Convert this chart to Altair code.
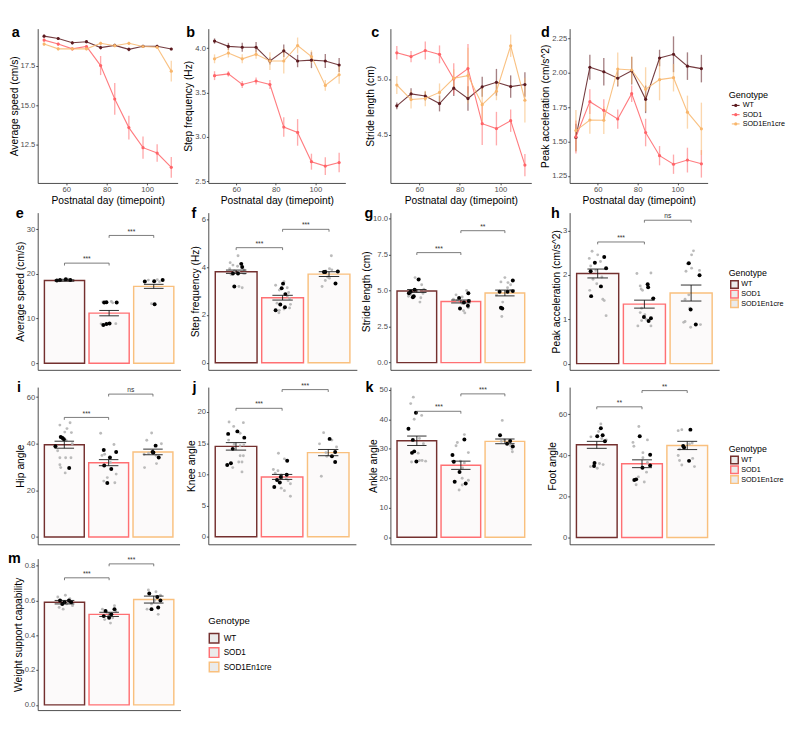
import altair as alt
import pandas as pd

FONT = "Liberation Sans"
GENOTYPES = ["WT", "SOD1", "SOD1En1cre"]
LINE_COLORS = ["#5c1a1f", "#ff6468", "#f8b66c"]
BAR_COLORS = ["#74302f", "#ff7073", "#f9c07e"]

DAYS = [49, 56, 63, 70, 77, 84, 91, 98, 105, 112]
DAY_TICKS = [60, 80, 100]

SPEED_WT = [19.35, 19.2, 18.93, 19.0, 18.63, 18.77, 18.52, 18.71, 18.71, 18.54]
SPEED_WT_SE = [0.1, 0.1, 0.1, 0.1, 0.12, 0.1, 0.12, 0.1, 0.1, 0.08]
SPEED_SOD1 = [19.1, 18.85, 18.55, 18.7, 17.5, 15.4, 13.6, 12.34, 12.0, 11.1]
SPEED_SOD1_SE = [0.1, 0.1, 0.1, 0.1, 0.6, 1.0, 0.75, 0.7, 0.55, 0.65]
SPEED_CRE = [18.85, 18.55, 18.55, 18.55, 18.9, 18.75, 18.9, 18.7, 18.65, 17.15]
SPEED_CRE_SE = [0.1, 0.1, 0.08, 0.1, 0.1, 0.1, 0.1, 0.1, 0.1, 0.65]

FREQ_WT = [4.08, 4.02, 4.01, 4.01, 3.855, 3.97, 3.855, 3.865, 3.855, 3.81]
FREQ_WT_SE = [0.03, 0.04, 0.05, 0.06, 0.04, 0.07, 0.07, 0.09, 0.08, 0.08]
FREQ_SOD1 = [3.69, 3.71, 3.59, 3.63, 3.59, 3.11, 3.05, 2.72, 2.67, 2.71]
FREQ_SOD1_SE = [0.05, 0.03, 0.04, 0.04, 0.05, 0.11, 0.15, 0.09, 0.1, 0.11]
FREQ_CRE = [3.88, 3.945, 3.88, 3.93, 3.855, 3.855, 4.03, 3.905, 3.58, 3.70]
FREQ_CRE_SE = [0.05, 0.05, 0.05, 0.05, 0.1, 0.14, 0.09, 0.07, 0.06, 0.1]

STRIDE_WT = [4.76, 4.867, 4.847, 4.78, 4.918, 4.825, 4.93, 4.97, 4.932, 4.95]
STRIDE_WT_SE = [0.03, 0.05, 0.04, 0.07, 0.07, 0.11, 0.09, 0.12, 0.1, 0.11]
STRIDE_SOD1 = [5.234, 5.20, 5.254, 5.22, 5.0, 5.093, 4.60, 4.556, 4.627, 4.23]
STRIDE_SOD1_SE = [0.06, 0.05, 0.08, 0.08, 0.14, 0.22, 0.19, 0.15, 0.1, 0.1]
STRIDE_CRE = [4.946, 4.816, 4.825, 4.88, 5.006, 5.03, 4.77, 4.89, 5.297, 4.81]
STRIDE_CRE_SE = [0.08, 0.08, 0.07, 0.08, 0.08, 0.25, 0.15, 0.08, 0.1, 0.2]

ACC_WT = [1.53, 2.04, 2.007, 1.96, 2.014, 1.807, 2.107, 2.134, 2.048, 2.03]
ACC_WT_SE = [0.1, 0.09, 0.1, 0.06, 0.1, 0.1, 0.06, 0.13, 0.1, 0.1]
ACC_SOD1 = [1.534, 1.79, 1.727, 1.664, 1.848, 1.566, 1.398, 1.336, 1.366, 1.339]
ACC_SOD1_SE = [0.12, 0.09, 0.08, 0.07, 0.06, 0.1, 0.07, 0.07, 0.09, 0.1]
ACC_CRE = [1.58, 1.657, 1.655, 2.027, 2.02, 1.88, 1.95, 1.964, 1.714, 1.593]
ACC_CRE_SE = [0.15, 0.1, 0.1, 0.12, 0.1, 0.16, 0.15, 0.1, 0.12, 0.19]

E_MEANS = [18.5, 11.2, 17.2]
E_SE = [0.15, 0.6, 0.45]
E_BRACKETS = [22.4, 28.6]
E_STARS = ["***", "***"]
E_GREY = [(0, -0.11, 18.45), (0, -0.06, 18.55), (0, -0.03, 18.7), (0, 0.08, 18.8), (0, 0.15, 18.6),
          (1, -0.14, 13.7), (1, 0.05, 13.8), (1, 0.08, 13.5), (1, -0.18, 8.8), (1, 0.15, 8.85),
          (2, -0.12, 18.6), (2, 0.08, 18.7), (2, 0.13, 18.25), (2, -0.05, 13.3)]
E_BLACK = [(0, -0.17, 18.5), (0, -0.1, 18.6), (0, 0.03, 18.8), (0, 0.13, 18.6),
           (1, -0.11, 13.6), (1, -0.06, 13.65), (1, 0.17, 13.6), (1, -0.13, 8.55), (1, -0.06, 8.75), (1, 0.01, 8.9),
           (2, -0.2, 18.3), (2, 0.01, 18.35), (2, 0.2, 18.6), (2, 0.02, 13.2)]

F_MEANS = [3.82, 2.73, 3.72]
F_SE = [0.07, 0.1, 0.1]
F_BRACKETS = [4.83, 5.6]
F_STARS = ["***", "***"]
F_GREY = [(0, 0.04, 4.49), (0, -0.13, 4.2), (0, -0.07, 4.1), (0, 0.03, 4.05), (0, -0.14, 3.95), (0, 0.17, 3.9),
          (0, -0.04, 3.85), (0, 0.06, 3.8), (0, 0.16, 3.75), (0, 0.19, 3.75), (0, 0.06, 3.2), (0, 0.13, 3.15),
          (0, -0.11, 3.7),
          (1, 0.03, 3.4), (1, -0.15, 3.25), (1, 0.1, 3.15), (1, -0.07, 3.05), (1, 0.13, 2.95), (1, 0.1, 2.8),
          (1, 0.15, 2.7), (1, -0.12, 2.5), (1, 0.17, 2.45), (1, 0.15, 2.3), (1, -0.07, 2.2), (1, -0.08, 2.1),
          (1, 0.03, 2.25),
          (2, 0.05, 4.49), (2, 0.01, 3.95), (2, 0.06, 3.9), (2, -0.07, 3.85), (2, -0.03, 3.6), (2, 0.01, 3.55),
          (2, -0.15, 3.2), (2, -0.08, 3.45)]
F_BLACK = [(0, 0.11, 4.15), (0, 0.13, 4.02), (0, -0.07, 3.75), (0, 0.04, 3.75), (0, -0.04, 3.2),
           (1, 0.01, 3.32), (1, -0.02, 3.13), (1, 0.06, 2.88), (1, -0.05, 2.44), (1, 0.05, 2.33), (1, -0.15, 2.2),
           (2, -0.11, 3.81), (2, -0.08, 3.81), (2, 0.19, 3.83), (2, 0.14, 3.33)]

G_MEANS = [4.97, 4.24, 4.83]
G_SE = [0.1, 0.1, 0.2]
G_BRACKETS = [7.63, 9.15]
G_STARS = ["***", "**"]
G_GREY = [(0, -0.04, 5.9), (0, 0.06, 5.8), (0, 0.11, 5.4), (0, 0.16, 5.1), (0, 0.04, 4.95), (0, 0.14, 4.8),
          (0, -0.14, 4.7), (0, -0.19, 4.6), (0, 0.09, 4.5), (0, 0.07, 4.2),
          (1, 0.13, 5.0), (1, -0.11, 4.7), (1, 0.03, 4.55), (1, -0.17, 4.4), (1, -0.08, 4.3), (1, 0.03, 4.1),
          (1, 0.17, 3.8), (1, 0.06, 3.6), (1, 0.09, 3.45),
          (2, 0.0, 5.9), (2, -0.09, 5.6), (2, 0.07, 5.55), (2, 0.13, 5.4), (2, 0.06, 5.2), (2, 0.13, 5.0),
          (2, -0.05, 4.2), (2, -0.07, 3.2), (2, -0.19, 4.7)]
G_BLACK = [(0, 0.04, 5.76), (0, -0.05, 5.06), (0, -0.14, 4.92), (0, -0.18, 4.81), (0, -0.07, 4.6), (0, -0.09, 4.53),
           (1, -0.04, 4.49), (1, 0.17, 4.81), (1, 0.18, 4.28), (1, 0.07, 4.17), (1, -0.02, 3.75), (1, 0.16, 3.94),
           (2, 0.18, 5.7), (2, -0.12, 4.92), (2, 0.06, 4.92), (2, 0.18, 4.96), (2, -0.09, 3.81), (2, -0.06, 3.75)]

H_MEANS = [2.03, 1.34, 1.59]
H_SE = [0.1, 0.09, 0.18]
H_BRACKETS = [2.74, 3.23]
H_STARS = ["***", "ns"]
H_GREY = [(0, -0.12, 2.53), (0, 0.0, 2.45), (0, -0.18, 2.37), (0, 0.06, 2.3), (0, -0.15, 2.2), (0, -0.04, 2.1),
          (0, 0.09, 1.95), (0, -0.1, 1.9), (0, -0.02, 1.8), (0, -0.17, 1.65), (0, 0.11, 1.45), (0, 0.14, 1.42),
          (0, 0.18, 1.08),
          (1, -0.16, 2.03), (1, 0.14, 2.04), (1, -0.09, 1.75), (1, -0.07, 1.68), (1, -0.04, 1.65), (1, 0.17, 1.45),
          (1, -0.06, 1.25), (1, -0.09, 1.15), (1, 0.01, 1.1), (1, 0.04, 1.0), (1, -0.06, 0.97), (1, -0.14, 0.85),
          (1, 0.14, 0.85),
          (2, 0.05, 2.54), (2, 0.01, 2.45), (2, -0.08, 2.25), (2, 0.01, 2.15), (2, 0.18, 2.1), (2, -0.11, 2.08),
          (2, -0.05, 1.55), (2, -0.13, 1.45), (2, -0.03, 1.25), (2, -0.13, 0.95), (2, -0.16, 0.93), (2, 0.2, 0.88),
          (2, -0.01, 0.82)]
H_BLACK = [(0, 0.14, 2.4), (0, -0.06, 2.27), (0, 0.18, 2.15), (0, -0.15, 2.08), (0, 0.07, 1.74), (0, -0.14, 1.52),
           (1, 0.07, 1.79), (1, 0.08, 1.72), (1, 0.19, 1.47), (1, -0.01, 1.05), (1, 0.14, 1.02), (1, 0.09, 0.96),
           (2, -0.05, 2.26), (2, 0.18, 1.99), (2, -0.01, 1.22), (2, 0.1, 0.88)]

I_MEANS = [39.6, 31.9, 36.5]
I_SE = [1.5, 1.3, 1.2]
I_BRACKETS = [51.3, 61.3]
I_STARS = ["***", "ns"]
I_GREY = [(0, 0.13, 49.0), (0, -0.1, 48.0), (0, 0.06, 46.5), (0, 0.01, 45.0), (0, 0.16, 44.8), (0, 0.04, 41.5),
          (0, 0.18, 40.0), (0, -0.15, 37.0), (0, -0.1, 34.0), (0, 0.03, 34.0), (0, 0.15, 34.0), (0, -0.1, 31.0),
          (0, -0.08, 29.8), (0, 0.02, 27.5),
          (1, -0.18, 44.5), (1, 0.12, 39.7), (1, -0.09, 35.5), (1, -0.15, 35.0), (1, 0.04, 32.0), (1, 0.17, 27.0),
          (1, -0.03, 25.5), (1, -0.11, 24.0), (1, 0.14, 23.3),
          (2, -0.03, 44.6), (2, -0.14, 41.5), (2, 0.19, 40.0), (2, -0.1, 36.0), (2, -0.2, 35.5), (2, 0.07, 35.0),
          (2, 0.08, 31.5), (2, -0.19, 29.8)]
I_BLACK = [(0, -0.08, 42.9), (0, -0.01, 41.9), (0, -0.2, 38.9), (0, 0.11, 29.6), (0, -0.04, 42.5),
           (1, -0.11, 37.3), (1, 0.17, 36.5), (1, 0.03, 34.1), (1, 0.06, 29.2), (1, -0.1, 30.7), (1, -0.03, 23.2),
           (2, 0.06, 39.2), (2, -0.01, 36.5), (2, 0.01, 36.3), (2, 0.13, 34.1)]

J_MEANS = [14.5, 9.6, 13.5]
J_SE = [0.6, 0.4, 0.5]
J_BRACKETS = [20.6, 23.6]
J_STARS = ["***", "***"]
J_GREY = [(0, -0.15, 18.4), (0, 0.16, 18.3), (0, -0.05, 17.7), (0, 0.09, 16.6), (0, -0.16, 15.5), (0, -0.04, 14.8),
          (0, 0.09, 14.6), (0, 0.17, 14.7), (0, 0.09, 13.0), (0, 0.16, 13.0), (0, 0.06, 12.0), (0, 0.13, 12.0),
          (0, -0.07, 11.1), (0, 0.13, 10.4),
          (1, -0.08, 13.4), (1, 0.05, 12.5), (1, -0.19, 10.8), (1, -0.09, 10.6), (1, -0.15, 10.2), (1, -0.02, 9.9),
          (1, 0.09, 9.3), (1, 0.13, 9.0), (1, 0.18, 8.5), (1, -0.02, 7.8), (1, 0.05, 7.4), (1, 0.18, 6.5),
          (2, -0.1, 16.7), (2, 0.08, 15.5), (2, -0.19, 14.9), (2, 0.18, 14.4), (2, -0.05, 13.5), (2, -0.03, 12.9),
          (2, -0.15, 9.7)]
J_BLACK = [(0, 0.03, 16.9), (0, -0.17, 16.5), (0, 0.18, 15.9), (0, -0.07, 14.1), (0, -0.11, 11.8), (0, -0.19, 11.5),
           (1, 0.11, 12.2), (1, 0.1, 9.95), (1, -0.03, 9.6), (1, -0.11, 9.1), (1, -0.05, 8.7), (1, -0.17, 8.0),
           (2, 0.03, 15.7), (2, 0.15, 13.6), (2, 0.08, 12.9), (2, 0.15, 12.0)]

K_MEANS = [32.7, 24.4, 32.5]
K_SE = [1.6, 1.4, 0.8]
K_BRACKETS = [42.7, 48.6]
K_STARS = ["***", "***"]
K_GREY = [(0, -0.08, 47.5), (0, -0.14, 45.3), (0, 0.11, 41.3), (0, -0.06, 40.0), (0, 0.06, 33.5), (0, 0.15, 31.7),
          (0, 0.03, 28.5), (0, 0.06, 26.0), (0, 0.12, 26.0), (0, 0.2, 25.8), (0, -0.12, 25.5),
          (1, 0.08, 34.8), (1, -0.08, 32.1), (1, -0.11, 31.0), (1, 0.17, 28.7), (1, -0.01, 25.8), (1, 0.08, 25.2),
          (1, 0.04, 23.5), (1, 0.03, 20.0), (1, 0.17, 19.3), (1, 0.03, 17.7), (1, -0.04, 16.0),
          (2, -0.06, 39.6), (2, -0.01, 33.0), (2, -0.08, 32.5), (2, 0.06, 32.0), (2, 0.13, 31.0), (2, 0.16, 30.0),
          (2, 0.17, 29.0)]
K_BLACK = [(0, -0.02, 42.2), (0, -0.19, 36.8), (0, -0.09, 33.0), (0, -0.06, 29.1), (0, -0.11, 28.6), (0, -0.01, 25.7),
           (1, 0.08, 33.1), (1, -0.19, 27.9), (1, -0.16, 25.6), (1, -0.03, 22.1), (1, -0.14, 18.8), (1, 0.11, 18.2),
           (2, -0.11, 34.6), (2, 0.12, 32.6), (2, 0.05, 31.7), (2, 0.18, 30.8)]

L_MEANS = [45.1, 35.9, 44.8]
L_SE = [1.7, 1.9, 2.0]
L_BRACKETS = [63.6, 71.5]
L_STARS = ["**", "**"]
L_GREY = [(0, 0.09, 55.3), (0, 0.04, 51.6), (0, -0.13, 49.0), (0, 0.11, 48.2), (0, 0.21, 47.5), (0, 0.06, 36.0),
          (0, 0.14, 35.5), (0, -0.14, 34.5), (0, 0.01, 33.7),
          (1, -0.07, 54.0), (1, 0.12, 47.5), (1, -0.2, 46.3), (1, -0.18, 44.4), (1, 0.02, 41.3), (1, 0.02, 38.8),
          (1, 0.12, 36.5), (1, 0.1, 31.8), (1, -0.08, 29.5), (1, 0.05, 27.0), (1, -0.13, 25.7),
          (2, -0.12, 52.5), (2, -0.2, 52.0), (2, 0.11, 46.0), (2, 0.05, 45.5), (2, -0.17, 43.0), (2, -0.2, 39.9),
          (2, 0.12, 38.5), (2, -0.17, 37.5), (2, -0.12, 35.3), (2, 0.16, 34.5)]
L_BLACK = [(0, 0.09, 53.2), (0, 0.01, 49.3), (0, 0.13, 49.8), (0, 0.18, 46.8), (0, -0.05, 36.3), (0, -0.06, 34.8),
           (1, -0.05, 49.3), (1, 0.18, 40.3), (1, 0.18, 35.1), (1, 0.01, 34.0), (1, -0.13, 28.3), (1, -0.17, 28.0),
           (2, 0.07, 52.5), (2, -0.09, 44.5), (2, -0.07, 43.8), (2, 0.04, 37.3)]

M_MEANS = [0.59, 0.52, 0.605]
M_SE = [0.01, 0.012, 0.02]
M_BRACKETS = [0.73, 0.81]
M_STARS = ["***", "***"]
M_GREY = [(0, -0.15, 0.62), (0, -0.08, 0.60), (0, 0.05, 0.58), (0, 0.12, 0.61), (0, 0.18, 0.57), (0, -0.12, 0.56),
          (0, 0.02, 0.63), (0, 0.09, 0.59), (0, -0.03, 0.55),
          (1, -0.15, 0.55), (1, -0.05, 0.53), (1, 0.08, 0.50), (1, 0.15, 0.54), (1, -0.1, 0.49), (1, 0.03, 0.47),
          (1, 0.12, 0.57), (1, -0.02, 0.51),
          (2, -0.12, 0.66), (2, 0.05, 0.65), (2, 0.15, 0.63), (2, -0.05, 0.58), (2, 0.1, 0.52), (2, -0.15, 0.55),
          (2, 0.02, 0.60)]
M_BLACK = [(0, -0.1, 0.60), (0, 0.0, 0.59), (0, 0.1, 0.60), (0, -0.05, 0.58), (0, 0.15, 0.59),
           (1, -0.08, 0.54), (1, 0.05, 0.52), (1, 0.12, 0.55), (1, -0.12, 0.51), (1, 0.0, 0.50),
           (2, -0.1, 0.64), (2, 0.08, 0.62), (2, 0.15, 0.60), (2, -0.05, 0.55), (2, 0.1, 0.56)]


def letter_layer(letter, lx, ly):
    return alt.Chart(pd.DataFrame({"t": [letter]})).mark_text(
        font=FONT, fontSize=15, fontWeight="bold", align="left", baseline="alphabetic", color="#000"
    ).encode(text="t:N", x=alt.value(lx), y=alt.value(ly))


def line_panel(letter, ytitle, means, ses, ydomain, yticks, yfmt, width, height, lx):
    recs = []
    for gi, g in enumerate(GENOTYPES):
        for d, m, s in zip(DAYS, means[gi], ses[gi]):
            recs.append({"day": d, "genotype": g, "mean": m, "lo": m - s, "hi": m + s})
    df = pd.DataFrame(recs)
    xs = alt.Scale(domain=[45.85, 115.15], nice=False, zero=False)
    ys = alt.Scale(domain=ydomain, nice=False, zero=False)
    xax = alt.Axis(values=DAY_TICKS, title="Postnatal day (timepoint)")
    yax = alt.Axis(values=yticks, format=yfmt, title=ytitle)
    col = alt.Color("genotype:N", scale=alt.Scale(domain=GENOTYPES, range=LINE_COLORS), legend=None)
    base = alt.Chart(df)
    err = base.mark_rule(strokeWidth=1.4, opacity=0.55).encode(
        x=alt.X("day:Q", scale=xs, axis=xax), y=alt.Y("lo:Q", scale=ys, axis=yax), y2="hi:Q", color=col)
    line = base.mark_line(strokeWidth=1.15, opacity=0.85).encode(
        x=alt.X("day:Q", scale=xs, axis=xax), y=alt.Y("mean:Q", scale=ys, axis=yax), color=col)
    pts = base.mark_point(filled=True, size=11, opacity=1).encode(
        x=alt.X("day:Q", scale=xs, axis=xax), y=alt.Y("mean:Q", scale=ys, axis=yax), color=col)
    return alt.layer(err, line, pts, letter_layer(letter, lx, 9)).properties(width=width, height=height)


def dots_frame(dots):
    return pd.DataFrame([{"x": gi + 1 + off, "v": v} for gi, off, v in dots])


def bar_panel(letter, ytitle, means, ses, grey, black, brackets, stars, ydomain, yticks, yfmt,
              width, height, lx, ly):
    bars = pd.DataFrame({"genotype": GENOTYPES, "pos": [1, 2, 3], "mean": means, "se": ses})
    bars["x1"] = bars["pos"] - 0.45
    bars["x2"] = bars["pos"] + 0.45
    bars["c1"] = bars["pos"] - 0.22
    bars["c2"] = bars["pos"] + 0.22
    bars["lo"] = bars["mean"] - bars["se"]
    bars["hi"] = bars["mean"] + bars["se"]
    bars["zero"] = 0.0
    xs = alt.Scale(domain=[0.4, 3.6], nice=False, zero=False)
    ys = alt.Scale(domain=ydomain, nice=False, zero=False)
    xax = alt.Axis(labels=False, ticks=False, title=None)
    yax = alt.Axis(values=yticks, format=yfmt, title=ytitle)

    def X(f):
        return alt.X(f, scale=xs, axis=xax)

    def Y(f):
        return alt.Y(f, scale=ys, axis=yax)

    stroke = alt.Stroke("genotype:N", scale=alt.Scale(domain=GENOTYPES, range=BAR_COLORS), legend=None)
    b = alt.Chart(bars)
    rect = b.mark_rect(fill="#fcfafa", strokeWidth=1.5).encode(
        x=X("x1:Q"), x2="x2:Q", y=Y("mean:Q"), y2="zero:Q", stroke=stroke)
    gl = alt.Chart(dots_frame(grey)).mark_circle(size=9, color="#b4b4b4", opacity=0.9).encode(
        x=X("x:Q"), y=Y("v:Q"))
    bl = alt.Chart(dots_frame(black)).mark_circle(size=17, color="#000000", opacity=1).encode(
        x=X("x:Q"), y=Y("v:Q"))
    ev = b.mark_rule(color="#111111", strokeWidth=0.9).encode(x=X("pos:Q"), y=Y("lo:Q"), y2="hi:Q")
    cl = b.mark_rule(color="#111111", strokeWidth=0.9).encode(x=X("c1:Q"), x2="c2:Q", y=Y("lo:Q"))
    ch = b.mark_rule(color="#111111", strokeWidth=0.9).encode(x=X("c1:Q"), x2="c2:Q", y=Y("hi:Q"))
    tick = (ydomain[1] - ydomain[0]) * 2.5 / height
    br = pd.DataFrame({"xa": [1, 2], "xb": [2, 3], "xm": [1.5, 2.5], "y": brackets,
                       "yt": [v - tick for v in brackets], "s": stars})
    bb = alt.Chart(br)
    hl = bb.mark_rule(color="#555555", strokeWidth=0.8).encode(x=X("xa:Q"), x2="xb:Q", y=Y("y:Q"))
    v1 = bb.mark_rule(color="#555555", strokeWidth=0.8).encode(x=X("xa:Q"), y=Y("y:Q"), y2="yt:Q")
    v2 = bb.mark_rule(color="#555555", strokeWidth=0.8).encode(x=X("xb:Q"), y=Y("y:Q"), y2="yt:Q")
    tx = bb.mark_text(font=FONT, fontSize=7, baseline="bottom", dy=-1, color="#333333").encode(
        x=X("xm:Q"), y=Y("y:Q"), text="s:N")
    return alt.layer(rect, gl, bl, ev, cl, ch, hl, v1, v2, tx,
                     letter_layer(letter, lx, ly)).properties(width=width, height=height)


def line_legend(width, height, ty, y0, y1):
    ldf = pd.DataFrame({"genotype": GENOTYPES})
    col = alt.Color("genotype:N", scale=alt.Scale(domain=GENOTYPES, range=LINE_COLORS), legend=None)
    y = alt.Y("genotype:N", scale=alt.Scale(type="point", domain=GENOTYPES, range=[y0, y1], padding=0), axis=None)
    base = alt.Chart(ldf)
    rule = base.mark_rule(strokeWidth=1.1).encode(x=alt.value(3.2), x2=alt.value(11.3), y=y, color=col)
    pt = base.mark_point(filled=True, size=11, opacity=1).encode(x=alt.value(7.3), y=y, color=col)
    txt = base.mark_text(font=FONT, align="left", baseline="middle", fontSize=7.5, color="#000").encode(
        x=alt.value(14.6), y=y, text="genotype:N")
    ttl = alt.Chart(pd.DataFrame({"t": ["Genotype"]})).mark_text(
        font=FONT, align="left", baseline="middle", fontSize=9.5, color="#000").encode(
        x=alt.value(0), y=alt.value(ty), text="t:N")
    return alt.layer(ttl, rule, pt, txt).properties(width=width, height=height)


def bar_legend(width, height, ty, y0, y1, sq_x, sq_size, tx_x, title_fs, label_fs):
    ldf = pd.DataFrame({"genotype": GENOTYPES})
    stroke = alt.Stroke("genotype:N", scale=alt.Scale(domain=GENOTYPES, range=BAR_COLORS), legend=None)
    y = alt.Y("genotype:N", scale=alt.Scale(type="point", domain=GENOTYPES, range=[y0, y1], padding=0), axis=None)
    base = alt.Chart(ldf)
    sq = base.mark_square(size=sq_size, fill="#ebebeb", fillOpacity=1, strokeWidth=1.5).encode(
        x=alt.value(sq_x), y=y, stroke=stroke)
    txt = base.mark_text(font=FONT, align="left", baseline="middle", fontSize=label_fs, color="#000").encode(
        x=alt.value(tx_x), y=y, text="genotype:N")
    ttl = alt.Chart(pd.DataFrame({"t": ["Genotype"]})).mark_text(
        font=FONT, align="left", baseline="middle", fontSize=title_fs, color="#000").encode(
        x=alt.value(0), y=alt.value(ty), text="t:N")
    return alt.layer(ttl, sq, txt).properties(width=width, height=height)


def spacer(w, h):
    return alt.Chart(pd.DataFrame({"s": [0]})).mark_point(opacity=0).encode(
        x=alt.value(0), y=alt.value(0)).properties(width=w, height=h)


H1, H2, H3, H4 = 161, 164, 164, 158

a = line_panel("a", "Average speed (cm/s)", [SPEED_WT, SPEED_SOD1, SPEED_CRE],
               [SPEED_WT_SE, SPEED_SOD1_SE, SPEED_CRE_SE], [10.12, 19.82], [12.5, 15.0, 17.5], ".1f", 146, H1, -27)
b = line_panel("b", "Step frequency (Hz)", [FREQ_WT, FREQ_SOD1, FREQ_CRE],
               [FREQ_WT_SE, FREQ_SOD1_SE, FREQ_CRE_SE], [2.48, 4.22], [2.5, 3.0, 3.5, 4.0], ".1f", 143, H1, -23)
c = line_panel("c", "Stride length (cm)", [STRIDE_WT, STRIDE_SOD1, STRIDE_CRE],
               [STRIDE_WT_SE, STRIDE_SOD1_SE, STRIDE_CRE_SE], [4.07, 5.45], [4.5, 5.0], ".1f", 147, H1, -20)
d = line_panel("d", "Peak acceleration (cm/s^2)", [ACC_WT, ACC_SOD1, ACC_CRE],
               [ACC_WT_SE, ACC_SOD1_SE, ACC_CRE_SE], [1.2, 2.32], [1.25, 1.5, 1.75, 2.0, 2.25], ".2f",
               144, H1, -30)

e = bar_panel("e", "Average speed (cm/s)", E_MEANS, E_SE, E_GREY, E_BLACK, E_BRACKETS, E_STARS,
              [-1.5, 33.7], [0, 10, 20, 30], "d", 149, H2, -23, 5.5)
f = bar_panel("f", "Step frequency (Hz)", F_MEANS, F_SE, F_GREY, F_BLACK, F_BRACKETS, F_STARS,
              [-0.3, 6.3], [0, 2, 4, 6], "d", 155, H2, -17.5, 5.5)
g = bar_panel("g", "Stride length (cm)", G_MEANS, G_SE, G_GREY, G_BLACK, G_BRACKETS, G_STARS,
              [-0.5, 10.4], [0, 2.5, 5, 7.5, 10], ".1f", 147, H2, -27, 5.5)
h = bar_panel("h", "Peak acceleration (cm/s^2)", H_MEANS, H_SE, H_GREY, H_BLACK, H_BRACKETS, H_STARS,
              [-0.14, 3.4], [0, 1, 2, 3], "d", 156, H2, -19.5, 5.5)

i = bar_panel("i", "Hip angle", I_MEANS, I_SE, I_GREY, I_BLACK, I_BRACKETS, I_STARS,
              [-3.1, 64.3], [0, 20, 40, 60], "d", 148, H3, -21.5, 5)
j = bar_panel("j", "Knee angle", J_MEANS, J_SE, J_GREY, J_BLACK, J_BRACKETS, J_STARS,
              [-1.2, 24.0], [0, 5, 10, 15, 20], "d", 154, H3, -16.5, 5)
k = bar_panel("k", "Ankle angle", K_MEANS, K_SE, K_GREY, K_BLACK, K_BRACKETS, K_STARS,
              [-2.4, 50.9], [0, 10, 20, 30, 40, 50], "d", 147, H3, -26, 5)
l = bar_panel("l", "Foot angle", L_MEANS, L_SE, L_GREY, L_BLACK, L_BRACKETS, L_STARS,
              [-3.3, 73.2], [0, 20, 40, 60], "d", 151, H3, -14.5, 5)

m = bar_panel("m", "Weight support capability", M_MEANS, M_SE, M_GREY, M_BLACK, M_BRACKETS, M_STARS,
              [-0.03, 0.84], [0.0, 0.2, 0.4, 0.6, 0.8], ".1f", 149, H4, -31, 4)

leg1 = line_legend(66, H1, 69.5, 80.1, 99.4)
leg2 = bar_legend(60, H2, 63, 75, 95, 6, 62, 13, 9.2, 7.5)
leg3 = bar_legend(60, H3, 64.5, 76, 96.5, 6, 62, 13, 9.2, 7.5)
leg4 = bar_legend(80, H4, 65.5, 83, 113, 6, 100, 16, 10, 8.5)

cells = [
    a, spacer(29, H1), b, spacer(35, H1), c, spacer(40, H1), d, spacer(3, H1), leg1,
] + [spacer(1, 31) for _ in range(9)] + [
    e, spacer(20, H2), f, spacer(29, H2), g, spacer(26, H2), h, spacer(10, H2), leg2,
] + [spacer(1, 18) for _ in range(9)] + [
    i, spacer(23, H3), j, spacer(31, H3), k, spacer(23, H3), l, spacer(10, H3), leg3,
] + [spacer(1, 15) for _ in range(9)] + [
    m, spacer(10, H4), leg4,
]

chart = alt.concat(*cells, columns=9, spacing=0, bounds="flush", align="none").properties(
    padding={"left": 0, "top": 3, "right": 0, "bottom": 0}
).configure(font=FONT).configure_view(stroke=None).configure_axis(
    labelFont=FONT, titleFont=FONT, labelFontSize=8, titleFontSize=10.7,
    labelColor="#4d4d4d", titleColor="#000000", titleFontWeight="normal",
    domainColor="#333333", tickColor="#333333", domainWidth=0.9, tickWidth=0.9,
    tickSize=2, labelPadding=1, titlePadding=1, grid=False
).configure_axisX(titlePadding=2)

chart.save("out.html", embed_options={"renderer": "svg", "actions": False})
